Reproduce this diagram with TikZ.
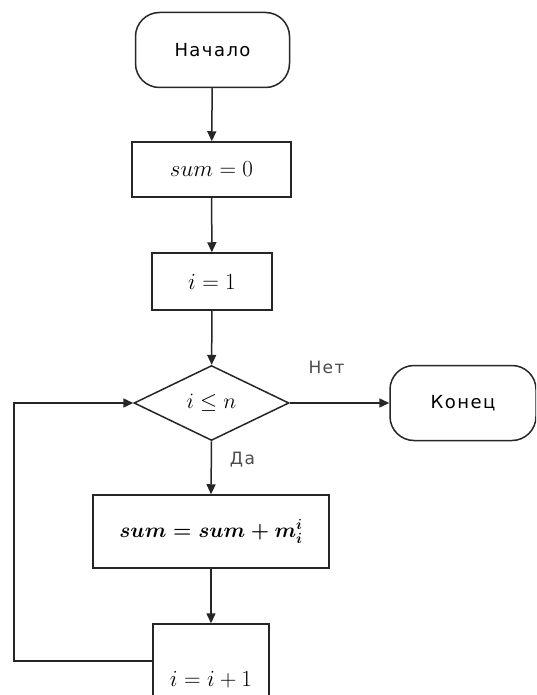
\RequirePackage{fix-cm}
\documentclass[tikz,border=0pt]{standalone}
\usepackage{fontspec}
\newfontfamily\labelfont[LetterSpace=8]{DejaVu Sans}
\usetikzlibrary{arrows.meta,shapes.geometric}
\begin{document}
\begin{tikzpicture}[x=1pt,y=-1pt,
  line/.style={line width=1.5pt,draw=black!85},
  flow/.style={line,-{Triangle[length=10pt,width=9pt]}},
  term/.style={line,rounded corners=24pt,minimum width=#1,minimum height=75pt,inner sep=0pt,
    font=\labelfont\fontsize{18}{21}\selectfont},
  op/.style={line,rectangle,inner sep=0pt,font=\fontsize{23}{27}\selectfont},
  cond/.style={line,diamond,aspect=2.07,minimum width=155pt,minimum height=75pt,inner sep=0pt,
    font=\fontsize{22}{26}\selectfont},
  tag/.style={text=black!70,font=\labelfont\fontsize{17}{20}\selectfont,inner sep=0pt}]
\clip (0,0) rectangle (536,695);
\fill[white] (0,0) rectangle (536,695);

% blocks of the algorithm
\node[term=154pt] (start) at (212.5,50) {Начало};
\node[op,minimum width=159pt,minimum height=55pt] (sum0) at (211.5,169.5) {$sum=0$};
\node[op,minimum width=120pt,minimum height=57pt] (i1) at (212,281.5) {$i=1$};
\node[cond] (test) at (211.5,403) {$i\leq n$};
\node[term=146pt] (stop) at (463,403) {Конец};
\node[op,minimum width=236pt,minimum height=73pt,font=\fontsize{21}{25}\selectfont\boldmath] (body) at (211,531.5)
  {$sum=sum+m_i^i$};
\node[op,minimum width=116pt,minimum height=112pt] (inc) at (211,680) {$i=i+1$};

% branch labels
\node[tag] (no) at (326.5,367) {Нет};
\node[tag] (yes) at (242.5,460) {Да};

\coordinate (corner) at (14,661);

% connectors
\draw[flow] (start) -- (sum0);
\draw[flow] (sum0) -- (i1);
\draw[flow] (i1) -- (test);
\draw[flow] (test.east) -- (stop.west);
\draw[flow] (test.south) -- (body.north);
\draw[flow] (body) -- (inc);
\draw[flow] ([yshift=19pt]inc.west) -- (corner) |- (test.west);
\end{tikzpicture}
\end{document}
